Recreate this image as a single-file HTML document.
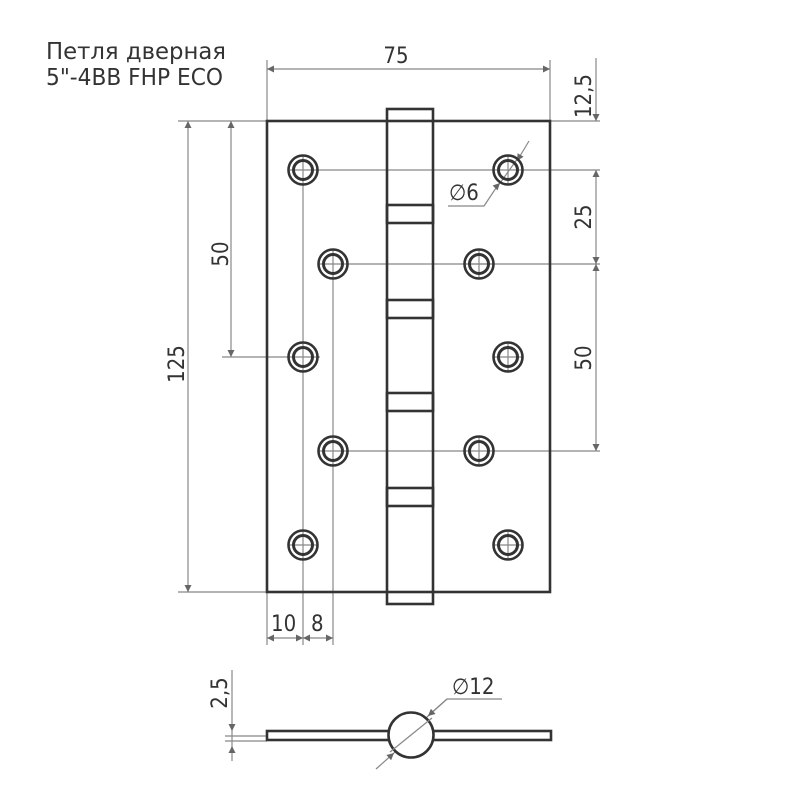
<!DOCTYPE html>
<html><head><meta charset="utf-8"><style>
html,body{margin:0;padding:0;background:#fff;width:800px;height:800px;overflow:hidden}
text{font-family:"DejaVu Sans Condensed","Liberation Sans",sans-serif;fill:#333}
</style></head><body>
<svg width="800" height="800" viewBox="0 0 800 800" xmlns="http://www.w3.org/2000/svg">
<defs>
<marker id="a" viewBox="0 0 10 10" refX="10" refY="5" markerWidth="11" markerHeight="7" markerUnits="userSpaceOnUse" orient="auto-start-reverse"><path d="M0,0 L10,5 L0,10 z" fill="#666"/></marker>
</defs>
<text x="46" y="59" font-size="23" textLength="180" lengthAdjust="spacingAndGlyphs">Петля  дверная</text>
<text x="46" y="85" font-size="23" textLength="177" lengthAdjust="spacingAndGlyphs">5"-4BB FHP ECO</text>

<g stroke="#888" stroke-width="1.2" fill="none">
<line x1="267" y1="60" x2="267" y2="121"/><line x1="550" y1="60" x2="550" y2="121"/>
<line x1="178" y1="121" x2="600" y2="121"/>
<line x1="178" y1="592" x2="267" y2="592"/>
<line x1="222" y1="357" x2="320" y2="357"/>
<line x1="290" y1="170" x2="600" y2="170"/>
<line x1="318" y1="264" x2="600" y2="264"/>
<line x1="318" y1="451" x2="600" y2="451"/>
<line x1="303" y1="155" x2="303" y2="645"/>
<line x1="333" y1="249" x2="333" y2="645"/>
<line x1="267" y1="592" x2="267" y2="645"/>
<line x1="508" y1="155" x2="508" y2="185"/>
<line x1="479" y1="249" x2="479" y2="279"/><line x1="464" y1="264" x2="494" y2="264"/>
<line x1="508" y1="342" x2="508" y2="372"/><line x1="493" y1="357" x2="523" y2="357"/>
<line x1="479" y1="436" x2="479" y2="466"/>
<line x1="288" y1="545" x2="318" y2="545"/>
<line x1="508" y1="530" x2="508" y2="560"/><line x1="493" y1="545" x2="523" y2="545"/>
<line x1="267" y1="69" x2="550" y2="69" marker-start="url(#a)" marker-end="url(#a)"/>
<line x1="596" y1="58" x2="596" y2="121" marker-end="url(#a)"/>
<line x1="596" y1="170" x2="596" y2="264" marker-start="url(#a)" marker-end="url(#a)"/>
<line x1="596" y1="264" x2="596" y2="451" marker-start="url(#a)" marker-end="url(#a)"/>
<line x1="188" y1="121" x2="188" y2="592" marker-start="url(#a)" marker-end="url(#a)"/>
<line x1="231" y1="121" x2="231" y2="357" marker-start="url(#a)" marker-end="url(#a)"/>
<line x1="267" y1="638" x2="303" y2="638" marker-start="url(#a)" marker-end="url(#a)"/>
<line x1="303" y1="638" x2="333" y2="638" marker-start="url(#a)" marker-end="url(#a)"/>
<polyline points="448,206 484,206 498,185"/>
<line x1="529" y1="141" x2="517" y2="161" marker-end="url(#a)"/>
<line x1="498" y1="185" x2="500" y2="183" marker-end="url(#a)"/>
<line x1="500" y1="183" x2="518" y2="158"/>
<line x1="225" y1="736" x2="267" y2="736"/><line x1="225" y1="741" x2="267" y2="741"/>
<line x1="232" y1="670" x2="232" y2="731" marker-end="url(#a)"/>
<line x1="232" y1="761" x2="232" y2="746" marker-end="url(#a)"/>
<line x1="232" y1="731" x2="232" y2="746"/>
<polyline points="502,699 447,699 428,716" />
<line x1="447" y1="699" x2="428" y2="716" marker-end="url(#a)"/>
<line x1="376" y1="769" x2="394" y2="753" marker-end="url(#a)"/>
<line x1="394" y1="753" x2="428" y2="716"/>
</g>

<g stroke="#333" stroke-width="2.6" fill="none">
<rect x="267" y="121" width="283" height="471"/>
<rect x="387" y="109" width="46" height="495"/>
<rect x="387" y="205" width="46" height="18"/>
<rect x="387" y="300" width="46" height="18"/>
<rect x="387" y="393" width="46" height="18"/>
<rect x="387" y="488" width="46" height="18"/>
<g>
<circle cx="303" cy="170" r="14.5"/><circle cx="303" cy="170" r="9.5" stroke-width="3"/>
<circle cx="333" cy="264" r="14.5"/><circle cx="333" cy="264" r="9.5" stroke-width="3"/>
<circle cx="303" cy="357" r="14.5"/><circle cx="303" cy="357" r="9.5" stroke-width="3"/>
<circle cx="333" cy="451" r="14.5"/><circle cx="333" cy="451" r="9.5" stroke-width="3"/>
<circle cx="303" cy="545" r="14.5"/><circle cx="303" cy="545" r="9.5" stroke-width="3"/>
<circle cx="508" cy="170" r="14.5"/><circle cx="508" cy="170" r="9.5" stroke-width="3"/>
<circle cx="479" cy="264" r="14.5"/><circle cx="479" cy="264" r="9.5" stroke-width="3"/>
<circle cx="508" cy="357" r="14.5"/><circle cx="508" cy="357" r="9.5" stroke-width="3"/>
<circle cx="479" cy="451" r="14.5"/><circle cx="479" cy="451" r="9.5" stroke-width="3"/>
<circle cx="508" cy="545" r="14.5"/><circle cx="508" cy="545" r="9.5" stroke-width="3"/>
</g>
<rect x="267" y="731" width="284" height="9"/>
<circle cx="411" cy="735" r="22.5" fill="#fff"/>
</g>
<line x1="390" y1="752" x2="432" y2="718" stroke="#888" stroke-width="1.2"/>

<g font-size="22">
<text x="396" y="63" text-anchor="middle">75</text>
<text x="271" y="631">10</text>
<text x="311" y="631">8</text>
<text x="449" y="200">∅6</text>
<text x="452" y="694">∅12</text>
<text transform="translate(591,96) rotate(-90)" text-anchor="middle">12,5</text>
<text transform="translate(591,217) rotate(-90)" text-anchor="middle">25</text>
<text transform="translate(591,358) rotate(-90)" text-anchor="middle">50</text>
<text transform="translate(184,364) rotate(-90)" text-anchor="middle">125</text>
<text transform="translate(228,254) rotate(-90)" text-anchor="middle">50</text>
<text transform="translate(227,693) rotate(-90)" text-anchor="middle">2,5</text>
</g>
</svg>
</body></html>
